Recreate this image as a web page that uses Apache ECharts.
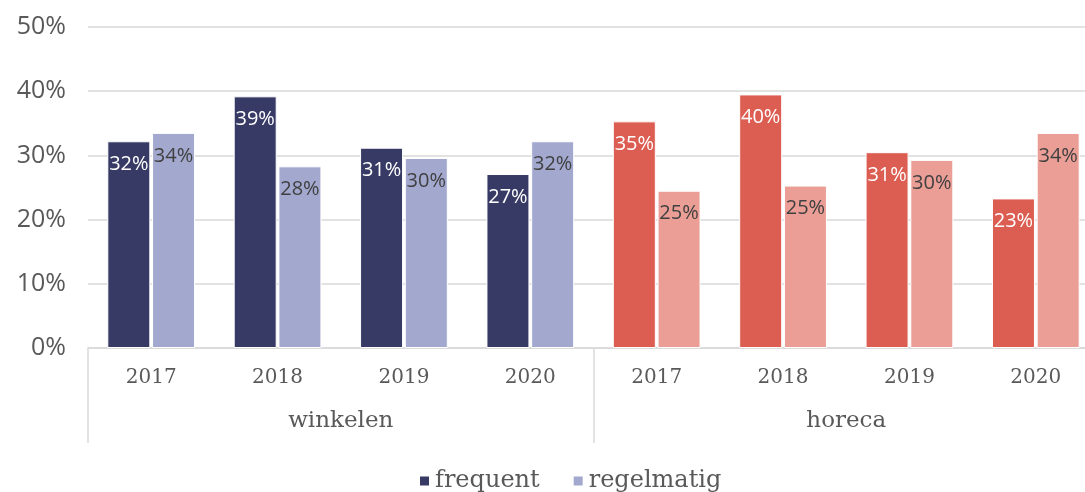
<!DOCTYPE html>
<html>
<head>
<meta charset="utf-8">
<script src="https://cdn.jsdelivr.net/npm/echarts@6/dist/echarts.min.js"></script>
<style>
  html, body { margin: 0; padding: 0; background: #ffffff; }
  #chart { width: 1085px; height: 492px; }
</style>
</head>
<body>
<div id="chart"></div>
<script>
  // categorieen
  const years = ['2017', '2018', '2019', '2020', '2017', '2018', '2019', '2020'];
  const groups = ['winkelen', 'horeca'];
  const yTicks = [0, 10, 20, 30, 40, 50];

  const frequent = [32.2, 39.2, 31.2, 27.1, 35.3, 39.5, 30.5, 23.3];
  const regelmatig = [33.5, 28.3, 29.6, 32.2, 24.5, 25.3, 29.3, 33.5];
  const labelsFrequent = [32, 39, 31, 27, 35, 40, 31, 23];
  const labelsRegelmatig = [34, 28, 30, 32, 25, 25, 30, 34];

  const navy = '#373a64';
  const lavender = '#a3a8cf';
  const red = '#dc5d51';
  const salmon = '#ea9e96';

  const serif = 'DejaVu Serif';
  const sans = 'Open Sans';

  // horeca krijgt de rode tinten
  const toItems = (vals, labels, base, alt, txtBase, txtAlt) =>
    vals.map((v, i) => ({
      value: v,
      pct: labels[i],
      itemStyle: { color: i < 4 ? base : alt },
      label: { color: i < 4 ? txtBase : txtAlt },
    }));

  const chart = echarts.init(document.getElementById('chart'));

  const barLabel = {
    show: true,
    position: 'insideTop',
    distance: 13,
    fontFamily: sans,
    fontSize: 20,
    formatter: (p) => p.data.pct + '%',
  };

  // rechterrand van het plotvlak valt buiten beeld
  chart.setOption({
    animation: false,
    grid: { left: 88, width: 1011, top: 27, bottom: 144, outerBoundsMode: 'none' },
    legend: {
      bottom: -6,
      left: 413,
      icon: 'rect',
      itemWidth: 11,
      itemHeight: 11,
      itemGap: 32,
      textStyle: { fontFamily: serif, fontSize: 24, color: '#595959' },
      data: ['frequent', 'regelmatig'],
    },
    xAxis: [
      {
        type: 'category',
        data: years,
        axisLine: { lineStyle: { color: '#d9d9d9', width: 1.5 } },
        axisTick: { show: false },
        axisLabel: { fontFamily: serif, fontSize: 20, color: '#595959', margin: 20, interval: 0 },
      },
      {
        type: 'category',
        data: groups,
        position: 'bottom',
        axisLine: { show: false },
        axisTick: { show: true, length: 95, lineStyle: { color: '#d9d9d9', width: 1.5 } },
        axisLabel: { fontFamily: serif, fontSize: 23, color: '#595959', margin: 62 },
      },
    ],
    yAxis: {
      type: 'value',
      min: yTicks[0],
      max: yTicks[yTicks.length - 1],
      interval: 10,
      axisLabel: { fontFamily: sans, fontSize: 25, color: '#595959', margin: 22, formatter: '{value}%' },
      splitLine: { lineStyle: { color: '#d9d9d9', width: 1.5 } },
    },
    series: [
      {
        name: 'frequent',
        type: 'bar',
        xAxisIndex: 0,
        barWidth: 43,
        barGap: '4%',
        color: navy,
        itemStyle: { borderColor: '#ffffff', borderWidth: 1 },
        label: barLabel,
        data: toItems(frequent, labelsFrequent, navy, red, '#ffffff', '#ffffff'),
      },
      {
        name: 'regelmatig',
        type: 'bar',
        xAxisIndex: 0,
        barWidth: 43,
        barGap: '4%',
        color: lavender,
        itemStyle: { borderColor: '#ffffff', borderWidth: 1 },
        label: barLabel,
        data: toItems(regelmatig, labelsRegelmatig, lavender, salmon, '#404040', '#404040'),
      },
    ],
  });
</script>
</body>
</html>
